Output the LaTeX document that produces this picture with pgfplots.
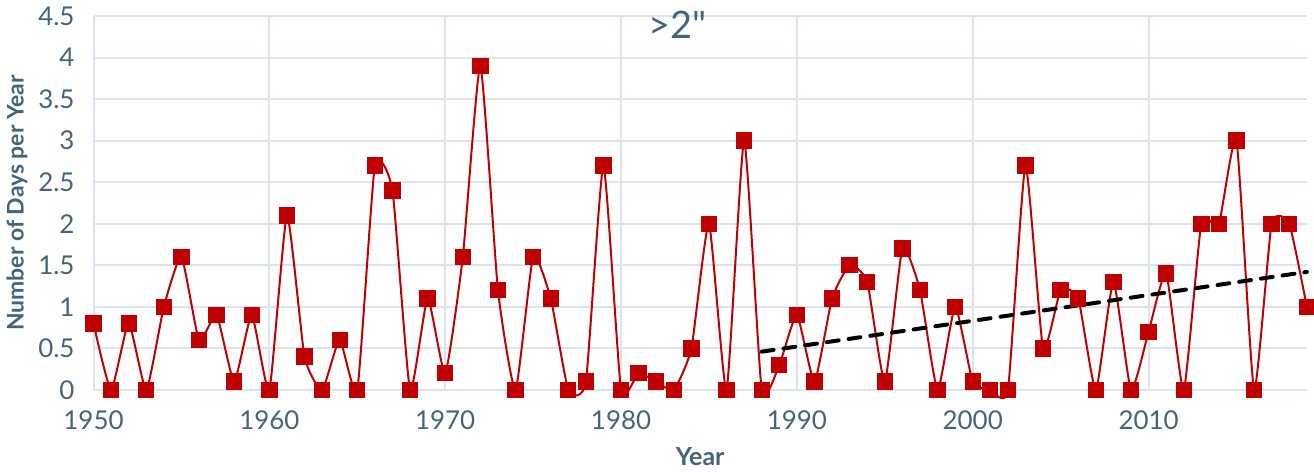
\documentclass[border=0pt]{standalone}
\usepackage{pgfplots}
\pgfplotsset{compat=1.18}
\usepackage{fontspec}
\setmainfont{Lato}
\newfontfamily\titlefont{Lato}[Ligatures=TeXOff]
\definecolor{txt}{HTML}{44647C}
\definecolor{gridc}{HTML}{D9E4EE}
\definecolor{dred}{HTML}{C00000}
\begin{document}
\begin{tikzpicture}
\begin{axis}[
    scale only axis,
    width=608.5pt, height=187.5pt,
    xmin=1950, xmax=2019,
    ymin=0, ymax=4.5,
    xtick={1950,1960,1970,1980,1990,2000,2010},
    ytick={0,0.5,1,1.5,2,2.5,3,3.5,4,4.5},
    yticklabels={0,0.5,1,1.5,2,2.5,3,3.5,4,4.5},
    xticklabel style={/pgf/number format/1000 sep={}, yshift=-7pt},
    yticklabel style={xshift=-6pt},
    /pgf/number format/assume math mode=true,
    ticklabel style={font=\fontsize{13}{15}\selectfont, text=txt},
    major tick length=0pt,
    grid=major,
    grid style={gridc, line width=1pt},
    axis x line=bottom, axis y line=left,
    axis line style={draw=gridc, line width=1pt, -},
    xlabel={Year},
    ylabel={Number of Days per Year},
    xlabel style={font=\bfseries\fontsize{12.5}{14}\selectfont, text=txt,
        at={(axis description cs:0.5,0)}, anchor=center, yshift=-33.5pt},
    ylabel style={font=\bfseries\fontsize{11.5}{13}\selectfont, text=txt,
        at={(axis description cs:-0.063,0.5)}, anchor=center},
    clip=false,
]
\addplot[dred, line width=1pt, smooth, tension=0.3, mark=square*, mark size=3.6pt,
    mark options={solid, fill=dred, draw=dred}] coordinates {
(1950,0.8)(1951,0)(1952,0.8)(1953,0)(1954,1.0)(1955,1.6)(1956,0.6)(1957,0.9)(1958,0.1)(1959,0.9)
(1960,0)(1961,2.1)(1962,0.4)(1963,0)(1964,0.6)(1965,0)(1966,2.7)(1967,2.4)(1968,0)(1969,1.1)
(1970,0.2)(1971,1.6)(1972,3.9)(1973,1.2)(1974,0)(1975,1.6)(1976,1.1)(1977,0)(1978,0.1)(1979,2.7)
(1980,0)(1981,0.2)(1982,0.1)(1983,0)(1984,0.5)(1985,2.0)(1986,0)(1987,3.0)(1988,0)(1989,0.3)
(1990,0.9)(1991,0.1)(1992,1.1)(1993,1.5)(1994,1.3)(1995,0.1)(1996,1.7)(1997,1.2)(1998,0)(1999,1.0)
(2000,0.1)(2001,0)(2002,0)(2003,2.7)(2004,0.5)(2005,1.2)(2006,1.1)(2007,0)(2008,1.3)(2009,0)
(2010,0.7)(2011,1.4)(2012,0)(2013,2.0)(2014,2.0)(2015,3.0)(2016,0)(2017,2.0)(2018,2.0)(2019,1.0)
};
\addplot[black, line width=2pt, line cap=round, dash pattern=on 6pt off 5pt] coordinates {
(1988,0.46)(2019,1.42)
};
\node[font=\titlefont\fontsize{19}{22}\selectfont, text=txt, anchor=center] at (axis cs:1983.2,4.4) {>2"};
\end{axis}
\end{tikzpicture}
\end{document}
